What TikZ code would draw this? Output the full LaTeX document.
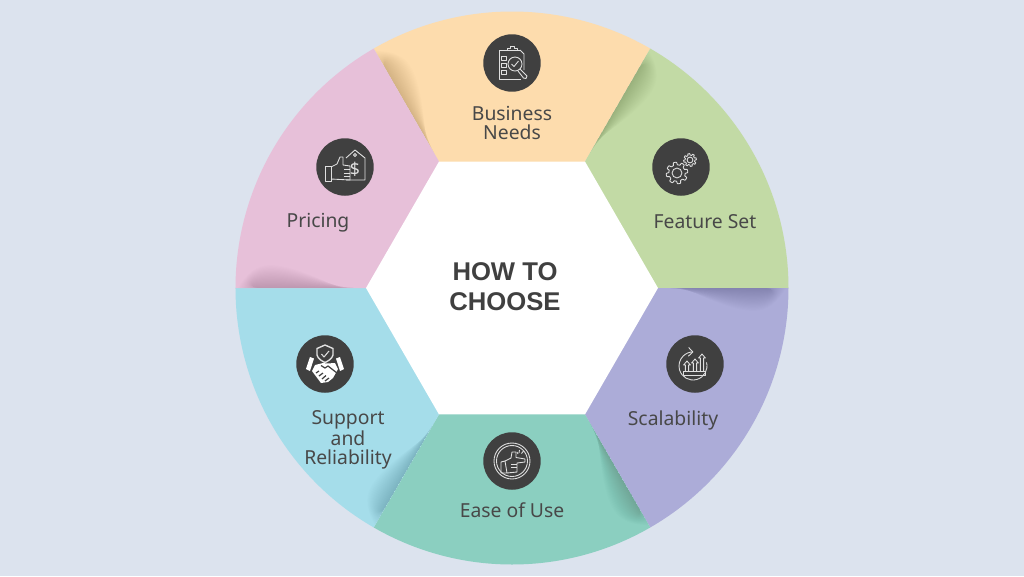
\documentclass[tikz,border=0pt]{standalone}
\usepackage{fontspec}
\setmainfont{Noto Sans}
\newfontfamily\headfont{Liberation Sans}
\usetikzlibrary{arrows.meta, positioning, calc}
\definecolor{PageBlue}{HTML}{DCE3EE}
\definecolor{NeedsOrange}{HTML}{FDDCAD}
\definecolor{FeatureGreen}{HTML}{C2DAA5}
\definecolor{ScaleViolet}{HTML}{ACACD8}
\definecolor{EaseTeal}{HTML}{8BCFC0}
\definecolor{SupportBlue}{HTML}{A5DDEA}
\definecolor{PricePink}{HTML}{E7C0D9}
\definecolor{InkGray}{HTML}{404040}
\definecolor{LabelGray}{HTML}{484848}
\tikzset{
  iconbase/.style={circle, fill=InkGray, minimum size=1.15cm, inner sep=0pt},
  glyph/.style={draw=white!88!black, line width=0.5pt, line join=round},
  label/.style={font=\fontsize{11}{10.8}\selectfont, text=LabelGray, align=center, inner sep=0pt},
  headline/.style={font=\headfont\fontsize{14.6}{17}\selectfont\bfseries, text=InkGray, align=center, inner sep=0pt}
}
% toothed wheel: centre x, centre y, mean radius
\newcommand{\cogwheel}[3]{
  \draw[glyph, shift={(#1,#2)}] plot[domain=0:360, samples=161, variable=\t]
    ({(#3+0.14*#3*max(min(2.5*sin(8*\t),1),-1))*cos(\t)}, {(#3+0.14*#3*max(min(2.5*sin(8*\t),1),-1))*sin(\t)}) -- cycle;
  \draw[glyph, shift={(#1,#2)}] (0,0) circle[radius=0.52*#3];
}
\begin{document}
\begin{tikzpicture}[x=0.02cm, y=0.02cm]
  \useasboundingbox (-512,-288) rectangle (512,288);
  \fill[PageBlue] (-512,-288) rectangle (512,288);

  % ring of sectors, each with a soft shadow along its leading edge
  \foreach \ang/\col in {120/NeedsOrange, 60/FeatureGreen, 0/ScaleViolet, -60/EaseTeal, -120/SupportBlue, 180/PricePink} {
    \begin{scope}[rotate=\ang]
      \fill[\col] (0,0) -- (276.5,0) arc[start angle=0, end angle=-60, radius=276.5] -- cycle;
      \begin{scope}
        \clip (0,0) -- (276.5,0) arc[start angle=0, end angle=-60, radius=276.5] -- cycle;
        \foreach \k in {1,...,20} {
          \pgfmathsetmacro{\hh}{1.15*\k}
          \pgfmathsetmacro{\ss}{148+1.2*\k}
          \pgfmathsetmacro{\ee}{274-1.2*(20-\k)}
          \fill[black, opacity=0.0075] (\ss,0) .. controls (190,-0.35*\hh) and (220,-\hh) .. (242,-\hh)
            .. controls (256,-\hh) and (266,-0.6*\hh) .. (\ee,0) -- cycle;
        }
      \end{scope}
    \end{scope}
  }

  % centre hexagon
  \fill[white] (0:146) -- (60:146) -- (120:146) -- (180:146) -- (240:146) -- (300:146) -- cycle;
  \node[headline] (title) at (-7,1) {HOW TO\\CHOOSE};

  \node[label] (needs) at (0,165) {Business\\Needs};
  \node[label] (feature) at (193,66) {Feature Set};
  \node[label] (scale) at (161,-132) {Scalability};
  \node[label] (ease) at (0,-222) {Ease of Use};
  \node[label] (support) at (-164,-151.5) {Support\\and\\Reliability};
  \node[label] (price) at (-194,65) {Pricing};

  \node[iconbase] (needsicon) at (0,225) {};
  \node[iconbase] (featureicon) at (169,121) {};
  \node[iconbase] (scaleicon) at (183,-76) {};
  \node[iconbase] (easeicon) at (0,-173) {};
  \node[iconbase] (supporticon) at (-187,-76) {};
  \node[iconbase] (priceicon) at (-167,121) {};

  % clipboard and magnifier
  \begin{scope}[shift={(needsicon.center)}]
    \draw[glyph] (8,13) -- (-13,13) -- (-13,-16) -- (9,-16);
    \draw[glyph] (8,13) -- (12,9) -- (12,-7);
    \draw[glyph] (-5,13) -- (-5,15) -- (-2,15) -- (-2,16.5) -- (2,16.5) -- (2,15) -- (5,15) -- (5,13);
    \foreach \yy in {7,0,-7} \draw[glyph] (-11,\yy) rectangle (-6,\yy-4);
    \draw[glyph] (3,-1) circle[radius=7];
    \draw[glyph] (-0.5,-1) -- (2,-3.5) -- (6.5,2);
    \draw[glyph] (8,-6) -- (10,-8) -- (15,-13) -- (14,-15.5) -- (11.5,-15) -- (6,-8);
  \end{scope}

  % pair of gears
  \begin{scope}[shift={(featureicon.center)}]
    \cogwheel{-4}{-6}{9.5}
    \cogwheel{9}{7}{5.6}
  \end{scope}

  % growth arrows in a circular arrow
  \begin{scope}[shift={(scaleicon.center)}]
    \draw[glyph, -{Straight Barb[length=2.5pt,width=5pt]}] (-2,-2) ++(15:14) arc[start angle=15, end angle=-272, radius=14];
    \draw[glyph] (-12,-7) rectangle (10,-11);
    \foreach \xx/\yy in {-8/2, 0/4, 7/9} {
      \draw[glyph] (\xx-1.6,-7) -- (\xx-1.6,\yy-3) -- (\xx-3.4,\yy-3) -- (\xx,\yy+1) -- (\xx+3.4,\yy-3) -- (\xx+1.6,\yy-3) -- (\xx+1.6,-7);
    }
  \end{scope}

  % pointing hand inside double ring
  \begin{scope}[shift={(easeicon.center)}]
    \draw[glyph] (0,0) circle[radius=18];
    \draw[glyph] (0,0) circle[radius=15.5];
    \draw[glyph] (-11,-1) -- (-7,0) -- (-5,-12) -- (-11,-12) -- cycle;
    \draw[glyph] (-7,0) -- (-1,3) -- (0,9) -- (4,9) -- (4,3.5) -- (13,2) -- (13,-1) -- (5,-2) -- (5,-11) -- (-5,-12);
    \draw[glyph] (-1,-3) -- (5,-3) (-1,-6.5) -- (5,-6.5);
    \draw[glyph] (7,8) -- (7.5,11) (9.5,7.5) -- (11.5,10) (6,7) -- (5,9);
  \end{scope}

  % shield over a handshake
  \begin{scope}[shift={(supporticon.center)}]
    \draw[glyph, line width=0.8pt] (0,19) -- (8,15.5) -- (8,9) .. controls (7,5) and (3,3) .. (0,1.5) .. controls (-3,3) and (-7,5) .. (-8,9) -- (-8,15.5) -- cycle;
    \draw[glyph, line width=0.6pt] (-3.5,10) -- (-1,7) -- (4,13);
    \fill[white] (-15,7) -- (-11,5.5) -- (-15,-7) -- (-19,-5) -- cycle;
    \fill[white] (15,7) -- (11,5.5) -- (15,-7) -- (19,-5) -- cycle;
    \fill[white] (-10,-1) -- (-2,1) -- (2,0.5) -- (10,1) -- (13,-5) -- (8,-14) -- (3,-18) -- (-4,-19) -- (-10,-11) -- (-13,-7) -- cycle;
    \draw[InkGray, line width=0.7pt] (-4,-1.5) -- (0,-4) -- (3,-2) -- (12,-9);
    \draw[InkGray, line width=0.7pt] (-9,-9) -- (-6,-7) (-6,-12) -- (-2,-9) (-3,-15) -- (1,-11.5) (0,-17) -- (4,-14);
  \end{scope}

  % price tag and thumb
  \begin{scope}[shift={(priceicon.center)}]
    \draw[glyph] (1,9) -- (10,17) -- (20,9) -- (20,-13) -- (1,-13);
    \draw[glyph] (10,12) circle[radius=1.6];
    \node[text=white!88!black, font=\fontsize{10}{10}\selectfont, inner sep=0pt] (dollar) at (10,-2) {\$};
    \draw[glyph] (-20,1) rectangle (-14,-14);
    \draw[glyph] (-14,0) -- (-8,3) -- (-5,10) -- (-2,10) -- (-2,2) -- (5,1) -- (5,-13) -- (-14,-12);
    \draw[glyph] (-1,-2.5) -- (5,-2.5) (-1,-6) -- (5,-6) (-1,-9.5) -- (5,-9.5);
  \end{scope}
\end{tikzpicture}
\end{document}
